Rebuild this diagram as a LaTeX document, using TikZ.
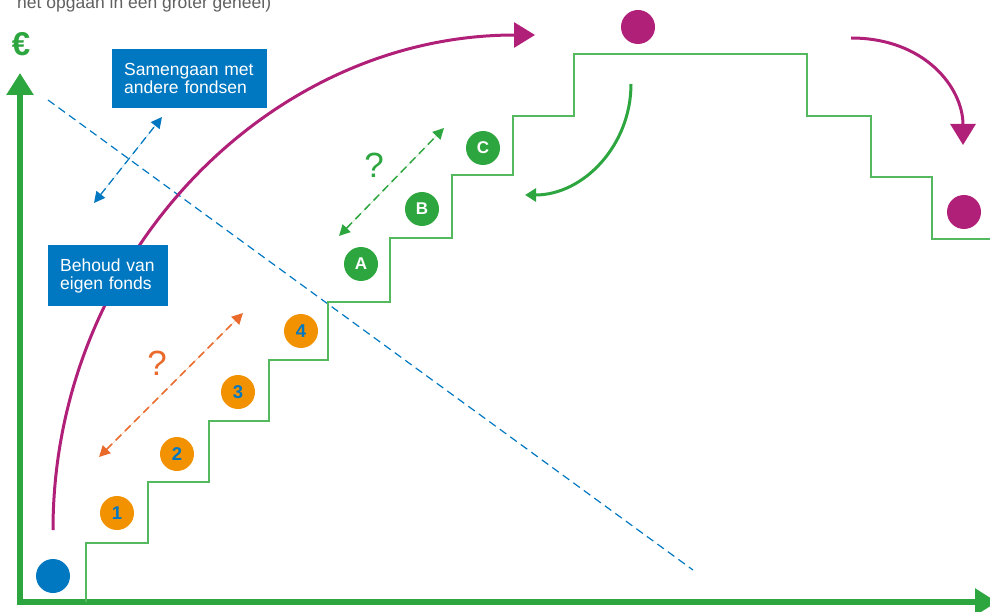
\documentclass[tikz,border=0pt]{standalone}
\usepackage{fontspec}
\setmainfont{Liberation Sans}
\usetikzlibrary{arrows.meta}

\definecolor{axisgreen}{RGB}{46,166,64}
\definecolor{stairgreen}{RGB}{84,184,94}
\definecolor{fundblue}{RGB}{0,120,193}
\definecolor{plum}{RGB}{176,31,120}
\definecolor{ambercirc}{RGB}{243,146,0}
\definecolor{orangearrow}{RGB}{234,106,44}
\definecolor{notegrey}{RGB}{96,96,96}

\tikzset{
  axisline/.style={draw=axisgreen, line width=6pt,
    {Triangle[length=22pt,width=26pt]}-{Triangle[length=22pt,width=26pt]}},
  stairline/.style={draw=stairgreen, line width=1.8pt, line join=miter},
  bluebox/.style={fill=fundblue, text=white, align=left, inner xsep=12pt,
    inner ysep=0pt, font=\fontsize{17.5}{18.3}\selectfont, anchor=north west},
  stepdot/.style={circle, inner sep=0pt, minimum size=34pt},
  numdot/.style={stepdot, fill=ambercirc, text=fundblue,
    font=\fontsize{18.5}{18.5}\selectfont\bfseries},
  letterdot/.style={stepdot, fill=axisgreen, text=white,
    font=\fontsize{17}{17}\selectfont\bfseries},
  plumdot/.style={stepdot, fill=plum},
  twoway/.style={line width=1.5pt, dash pattern=on 8pt off 5pt,
    {Triangle[length=11pt,width=11pt]}-{Triangle[length=11pt,width=11pt]}},
  bigquestion/.style={font=\fontsize{35}{35}\selectfont, inner sep=0pt},
  plumarrow/.style={draw=plum, line width=3pt, -{Triangle[length=21pt,width=25pt]}},
  greenarrow/.style={draw=axisgreen, line width=3pt, -{Triangle[length=11pt,width=13pt]}}
}

\begin{document}
\begin{tikzpicture}[x=1pt,y=-1pt]
\useasboundingbox (0,0) rectangle (990,612);

% caption fragment running off the top edge
\node[anchor=base west, inner sep=0pt, text=notegrey,
  font=\fontsize{17.5}{20}\selectfont] (note) at (17,8.5)
  {het opgaan in een groter geheel)};

% axes
\coordinate (origin) at (20,602);
\coordinate (ytop) at (20,73);
\coordinate (xend) at (997,602);
\draw[axisline] (ytop) -- (origin) -- (xend);
\node[text=axisgreen, font=\fontsize{33}{33}\selectfont\bfseries, inner sep=0pt]
  (euro) at (21,44) {€};

% diagonal boundary
\coordinate (diagA) at (48,100);
\coordinate (diagB) at (693,570);
\draw[draw=fundblue, line width=1.2pt, dash pattern=on 8pt off 5pt] (diagA) -- (diagB);

% staircase: up, plateau, down
\draw[stairline] (86,602) -- (86,543) -- (148,543) -- (148,482) -- (209,482)
  -- (209,421) -- (269,421) -- (269,360) -- (328,360) -- (328,302)
  -- (390,302) -- (390,238) -- (452,238) -- (452,175) -- (513,175)
  -- (513,116) -- (574,116) -- (574,54) -- (807,54) -- (807,116)
  -- (871,116) -- (871,177) -- (932,177) -- (932,239) -- (992,239);

% large rising arc (passes behind the boxes)
\coordinate (arcstart) at (53,530);
\draw[plumarrow] (arcstart) arc[start angle=180, end angle=270, x radius=482, y radius=495];

% labelled boxes
\node[bluebox, minimum width=155pt, minimum height=59pt, text width=131pt] (merge) at (112,49)
  {Samengaan met\\andere fondsen};
\node[bluebox, minimum width=120pt, minimum height=61pt, text width=96pt] (keep) at (48,245)
  {Behoud van\\eigen fonds};

% blue two-way arrow
\coordinate (bA) at (94,203);
\coordinate (bB) at (162,117);
\draw[twoway, draw=fundblue, fill=fundblue, line width=1.3pt] (bA) -- (bB);

% numbered steps
\node[numdot] (n1) at (117,513) {1};
\node[numdot] (n2) at (177,454) {2};
\node[numdot] (n3) at (238,392) {3};
\node[numdot] (n4) at (301,331) {4};

% lettered steps
\node[letterdot] (lA) at (361,264) {A};
\node[letterdot] (lB) at (422,209) {B};
\node[letterdot] (lC) at (483,148) {C};

% orange two-way arrow with question mark
\coordinate (oA) at (99,457);
\coordinate (oB) at (243,313);
\draw[twoway, draw=orangearrow, fill=orangearrow] (oA) -- (oB);
\node[bigquestion, text=orangearrow] (q1) at (157,363) {?};

% green two-way arrow with question mark
\coordinate (gA) at (339,236);
\coordinate (gB) at (444,128);
\draw[twoway, draw=axisgreen, fill=axisgreen] (gA) -- (gB);
\node[bigquestion, text=axisgreen] (q2) at (374,165) {?};

% dots
\node[stepdot, fill=fundblue] (startdot) at (53,576) {};
\node[plumdot] (topdot) at (638,27) {};
\node[plumdot] (enddot) at (964,212) {};

% falling arrow on the right
\coordinate (fallA) at (851,38);
\coordinate (fallB) at (963,145);
\draw[plumarrow] (fallA) .. controls (925,38) and (963,88) .. (fallB);

% green return arrow
\coordinate (retA) at (631,84);
\draw[greenarrow] (retA) arc[start angle=0, end angle=90, x radius=106, y radius=111];
\end{tikzpicture}
\end{document}
